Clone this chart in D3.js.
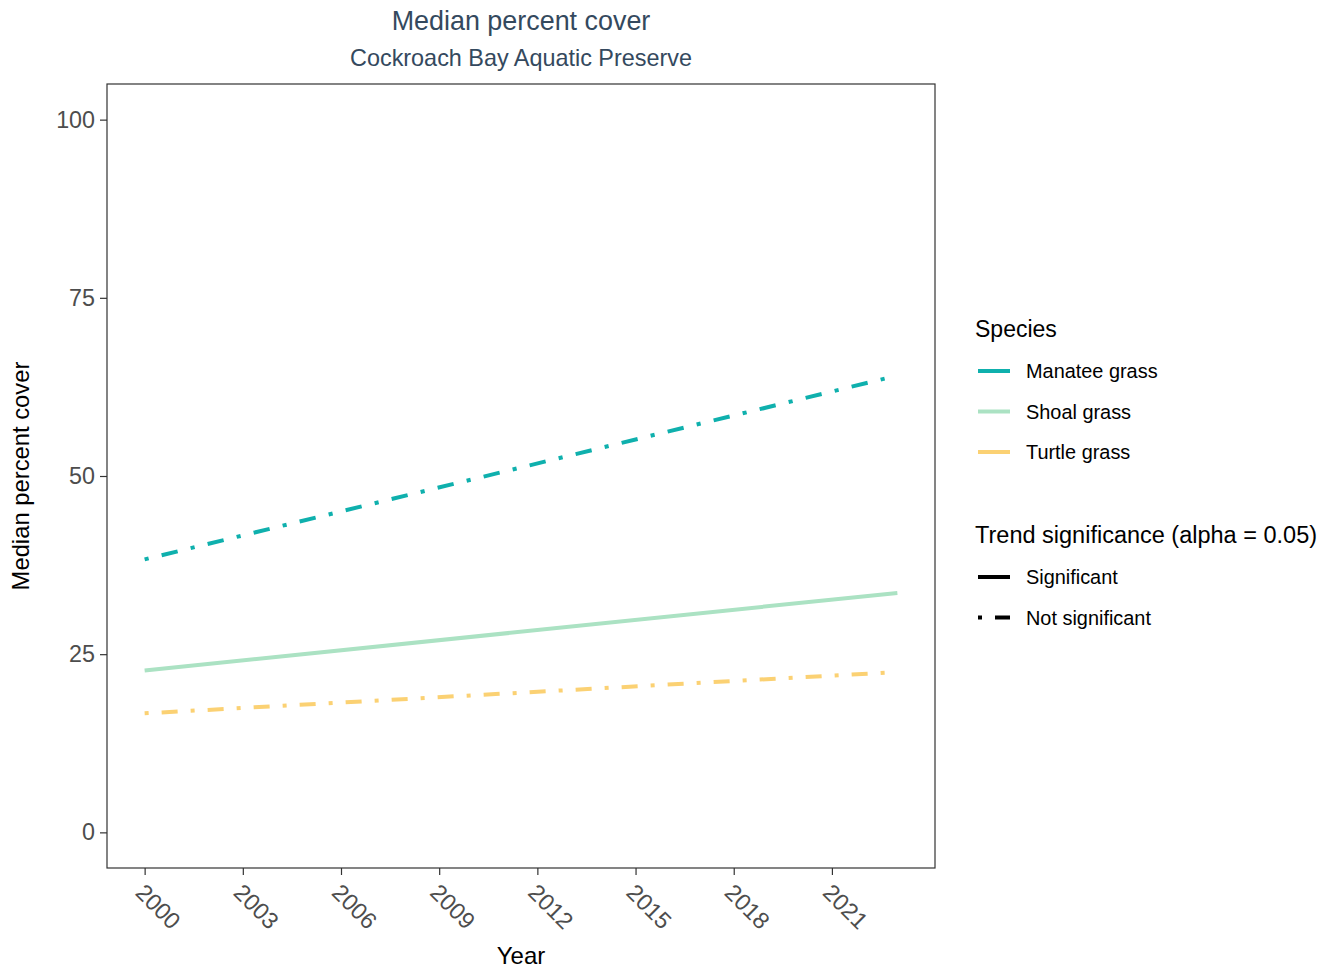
<!DOCTYPE html>
<html>
<head>
<meta charset="utf-8">
<script src="https://cdn.jsdelivr.net/npm/d3@7"></script>
<style>
  html, body { margin: 0; padding: 0; background: #fff; }
  text { font-family: "Liberation Sans", Arial, sans-serif; }
</style>
</head>
<body>
<svg id="chart" width="1329" height="970"></svg>
<script>
// ---- Data ----
const years = [2000, 2023];
const species = ["Manatee grass", "Shoal grass", "Turtle grass"];
const manateeValues = [38.3, 64.1];
const shoalValues = [22.7, 33.6];
const turtleValues = [16.7, 22.5];
const significance = ["Not significant", "Significant", "Not significant"];
const sigLevels = ["Significant", "Not significant"];
const xTicks = [2000, 2003, 2006, 2009, 2012, 2015, 2018, 2021];
const yTicks = [0, 25, 50, 75, 100];

const seriesValues = [manateeValues, shoalValues, turtleValues];
const colors = { "Manatee grass": "#0fb0ad", "Shoal grass": "#abe2c3", "Turtle grass": "#fbd173" };
const dashPattern = [4, 13, 16, 13];

const svg = d3.select("#chart");
const panel = { left: 107, right: 935, top: 84, bottom: 868 };

const x = d3.scaleLinear().domain([1998.85, 2024.15]).range([panel.left, panel.right]);
const y = d3.scaleLinear().domain([-5, 105]).range([panel.bottom, panel.top]);

// Titles
svg.append("text").attr("x", (panel.left + panel.right) / 2).attr("y", 30)
  .attr("text-anchor", "middle").attr("font-size", 26.9).attr("fill", "#34495e")
  .text("Median percent cover");
svg.append("text").attr("x", (panel.left + panel.right) / 2).attr("y", 66)
  .attr("text-anchor", "middle").attr("font-size", 23.4).attr("fill", "#34495e")
  .text("Cockroach Bay Aquatic Preserve");

// Lines
const line = d3.line().x(d => x(d[0])).y(d => y(d[1]));
species.forEach((sp, i) => {
  const pts = years.map((yr, j) => [yr, seriesValues[i][j]]);
  const p = svg.append("path").datum(pts)
    .attr("d", line)
    .attr("fill", "none")
    .attr("stroke", colors[sp])
    .attr("stroke-width", 4)
    .attr("stroke-linecap", "butt");
  if (significance[i] === "Not significant") {
    const dx = x(years[1]) - x(years[0]);
    const dy = y(seriesValues[i][1]) - y(seriesValues[i][0]);
    const f = Math.sqrt(dx * dx + dy * dy) / dx;
    p.attr("stroke-dasharray", dashPattern.map(v => v * f).join(","));
  }
});

// Panel border
svg.append("rect").attr("x", panel.left).attr("y", panel.top)
  .attr("width", panel.right - panel.left).attr("height", panel.bottom - panel.top)
  .attr("fill", "none").attr("stroke", "#333333").attr("stroke-width", 1.2);

// Y axis
const yAxis = svg.append("g").attr("transform", `translate(${panel.left},0)`)
  .call(d3.axisLeft(y).tickValues(yTicks).tickSize(7).tickPadding(5));
yAxis.select(".domain").remove();
yAxis.selectAll(".tick line").attr("stroke", "#333333").attr("stroke-width", 1.2);
yAxis.selectAll(".tick text").attr("font-size", 23.3).attr("fill", "#4d4d4d")
  .attr("font-family", "Liberation Sans, Arial, sans-serif");

// X axis
const xAxis = svg.append("g").attr("transform", `translate(0,${panel.bottom})`)
  .call(d3.axisBottom(x).tickValues(xTicks).tickFormat(d3.format("d")).tickSize(7));
xAxis.select(".domain").remove();
xAxis.selectAll(".tick line").attr("stroke", "#333333").attr("stroke-width", 1.2);
xAxis.selectAll(".tick text")
  .attr("font-size", 23.3).attr("fill", "#4d4d4d")
  .attr("font-family", "Liberation Sans, Arial, sans-serif")
  .attr("text-anchor", "start").attr("dy", null).attr("y", 0)
  .attr("transform", "translate(-11,26) rotate(45)");

// Axis titles
svg.append("text").attr("x", (panel.left + panel.right) / 2).attr("y", 964)
  .attr("text-anchor", "middle").attr("font-size", 24).attr("fill", "#000")
  .text("Year");
svg.append("text").attr("transform", `translate(29,${(panel.top + panel.bottom) / 2}) rotate(-90)`)
  .attr("text-anchor", "middle").attr("font-size", 23.8).attr("fill", "#000")
  .text("Median percent cover");

// Legend: Species
const lg = svg.append("g");
lg.append("text").attr("x", 975).attr("y", 337).attr("font-size", 23).attr("fill", "#000").text("Species");
species.forEach((sp, i) => {
  const cy = 371 + i * 40.5;
  lg.append("line").attr("x1", 978).attr("x2", 1010).attr("y1", cy).attr("y2", cy)
    .attr("stroke", colors[sp]).attr("stroke-width", 4);
  lg.append("text").attr("x", 1026).attr("y", cy + 7).attr("font-size", 19.9).attr("fill", "#000").text(sp);
});

// Legend: significance
lg.append("text").attr("x", 975).attr("y", 543).attr("font-size", 23.5).attr("fill", "#000")
  .text("Trend significance (alpha = 0.05)");
sigLevels.forEach((s, i) => {
  const cy = 577 + i * 40.5;
  const l = lg.append("line").attr("x1", 978).attr("x2", 1010).attr("y1", cy).attr("y2", cy)
    .attr("stroke", "#000").attr("stroke-width", 4);
  if (s === "Not significant") l.attr("stroke-dasharray", dashPattern.join(","));
  lg.append("text").attr("x", 1026).attr("y", cy + 7).attr("font-size", 19.9).attr("fill", "#000").text(s);
});
</script>
</body>
</html>
